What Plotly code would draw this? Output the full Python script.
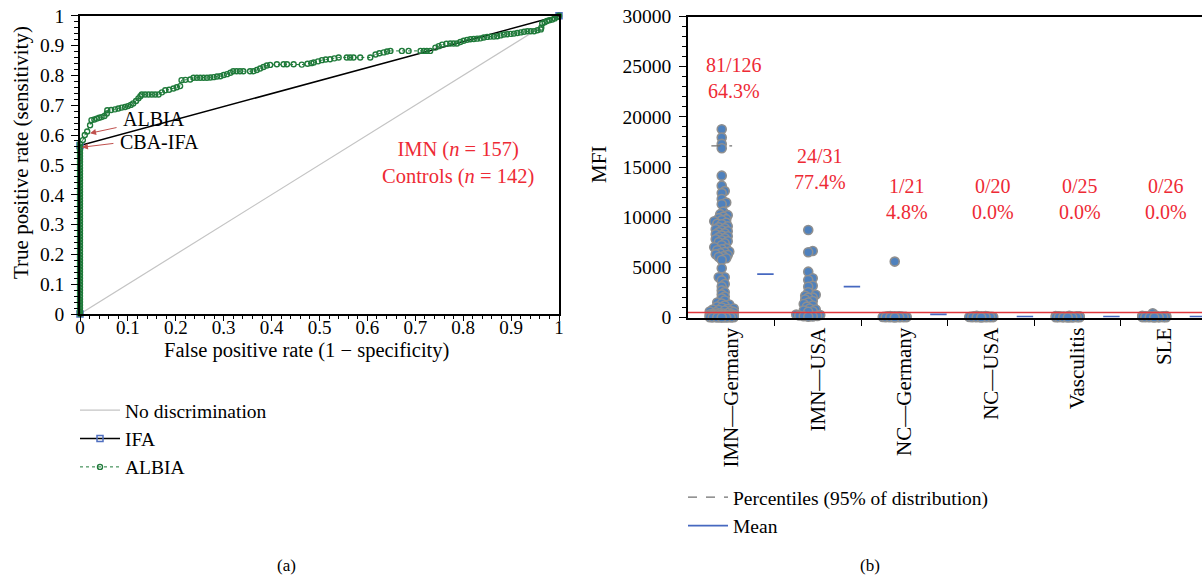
import math
import plotly.graph_objects as go

# ---------------- Panel (a): ROC data ----------------
diag_x = [0, 1]
diag_y = [0, 1]

ifa_fpr = [0, 0, 1]
ifa_tpr = [0, 0.565, 1]

albia_tpr_at_zero = [0.00, 0.01, 0.02, 0.03, 0.04, 0.05, 0.06, 0.07, 0.08, 0.09, 0.10,
                     0.11, 0.12, 0.13, 0.14, 0.15, 0.16, 0.17, 0.18, 0.19, 0.20, 0.21,
                     0.22, 0.23, 0.24, 0.25, 0.26, 0.27, 0.28, 0.29, 0.30, 0.31, 0.32,
                     0.33, 0.34, 0.35, 0.36, 0.37, 0.38, 0.39, 0.40, 0.41, 0.42, 0.43,
                     0.44, 0.45, 0.46, 0.47, 0.48, 0.49, 0.50, 0.51, 0.52, 0.53, 0.54,
                     0.55, 0.56, 0.57]

albia_fpr_curve = [0.006, 0.010, 0.015, 0.021, 0.024, 0.030, 0.035, 0.040, 0.045, 0.051,
                   0.056, 0.057, 0.065, 0.073, 0.080, 0.087, 0.094, 0.100, 0.106, 0.111,
                   0.117, 0.122, 0.126, 0.129, 0.136, 0.143, 0.150, 0.157, 0.164, 0.171,
                   0.178, 0.186, 0.195, 0.202, 0.209, 0.212, 0.220, 0.230, 0.237, 0.244,
                   0.251, 0.258, 0.265, 0.272, 0.279, 0.286, 0.293, 0.300, 0.307, 0.314,
                   0.320, 0.327, 0.334, 0.341, 0.355, 0.362, 0.369, 0.376, 0.383, 0.390,
                   0.397, 0.411, 0.425, 0.432, 0.446, 0.463, 0.475, 0.483, 0.488, 0.497,
                   0.505, 0.513, 0.522, 0.531, 0.540, 0.557, 0.564, 0.571, 0.585, 0.606,
                   0.617, 0.625, 0.634, 0.641, 0.648, 0.672, 0.686, 0.711, 0.718, 0.724,
                   0.731, 0.742, 0.749, 0.756, 0.765, 0.773, 0.780, 0.787, 0.794, 0.801,
                   0.808, 0.815, 0.822, 0.829, 0.836, 0.843, 0.850, 0.857, 0.864, 0.871,
                   0.878, 0.885, 0.892, 0.899, 0.906, 0.913, 0.920, 0.927, 0.934, 0.941,
                   0.948, 0.955, 0.962, 0.963, 0.965, 0.970, 0.975, 0.980, 0.986, 0.991,
                   0.996, 1.000]
albia_tpr_curve = [0.583, 0.600, 0.612, 0.633, 0.650, 0.652, 0.655, 0.658, 0.660, 0.664,
                   0.672, 0.683, 0.684, 0.686, 0.689, 0.692, 0.694, 0.697, 0.701, 0.706,
                   0.714, 0.723, 0.730, 0.736, 0.736, 0.736, 0.736, 0.736, 0.736, 0.743,
                   0.750, 0.752, 0.756, 0.760, 0.764, 0.784, 0.785, 0.786, 0.792, 0.792,
                   0.792, 0.792, 0.792, 0.793, 0.794, 0.796, 0.797, 0.801, 0.804, 0.809,
                   0.814, 0.814, 0.814, 0.814, 0.814, 0.814, 0.818, 0.823, 0.828, 0.833,
                   0.835, 0.837, 0.837, 0.837, 0.837, 0.836, 0.839, 0.841, 0.843, 0.847,
                   0.851, 0.853, 0.854, 0.857, 0.860, 0.860, 0.860, 0.860, 0.860, 0.860,
                   0.870, 0.874, 0.877, 0.880, 0.882, 0.882, 0.882, 0.882, 0.882, 0.882,
                   0.882, 0.893, 0.898, 0.903, 0.906, 0.907, 0.907, 0.907, 0.912, 0.916,
                   0.919, 0.921, 0.922, 0.923, 0.924, 0.927, 0.929, 0.930, 0.930, 0.931,
                   0.934, 0.937, 0.938, 0.939, 0.940, 0.942, 0.944, 0.946, 0.948, 0.948,
                   0.948, 0.951, 0.954, 0.960, 0.974, 0.978, 0.982, 0.985, 0.987, 0.991,
                   0.996, 1.000]

# ---------------- Panel (b): MFI data ----------------
groups = ["IMN—Germany", "IMN—USA", "NC—Germany", "NC—USA", "Vasculitis", "SLE"]
ratio_text = ["81/126", "24/31", "1/21", "0/20", "0/25", "0/26"]
pct_text = ["64.3%", "77.4%", "4.8%", "0.0%", "0.0%", "0.0%"]
label_y = [23900, 14850, 11800, 11800, 11800, 11800]

imn_germany = [18760, 17930, 17300, 16870, 14140, 13140, 12600, 12400, 11810, 11450,
               11280, 10550, 10300, 10200, 10050, 9900, 9800, 9700, 9600, 9450,
               9350, 9300, 9100, 9000, 8900, 8800, 8700, 8600, 8500, 8400,
               8300, 8190, 8100, 8000, 7900, 7800, 7700, 7600, 7500, 7400,
               7200, 7000, 6900, 6800, 6700, 6580, 6530, 6400, 6300, 6230,
               6100, 6030, 5900, 5730, 4900, 4010, 4010, 3700, 3340, 3100,
               2700, 2510, 2300, 2100, 1910, 1700, 1500, 1400, 1300, 1200,
               1100, 1000, 900, 850, 800, 750, 700, 650, 600, 560, 520,
               450, 430, 400, 380, 350, 330, 300, 280, 260, 250, 240, 220, 200, 190,
               180, 170, 160, 150, 140, 130, 120, 110, 100, 95, 90, 85, 80, 75, 70,
               65, 60, 55, 50, 45, 40, 35, 30, 25, 20, 15, 10, 5, 3, 0]
imn_usa = [8720, 6630, 6500, 4570, 3910, 3740, 3170, 3070, 2510, 2270, 2170, 2000,
           1980, 1800, 1650, 1500, 1350, 1200, 1080, 900, 800, 700, 620, 580,
           300, 250, 200, 150, 120, 100, 80]
nc_germany = [5570, 150, 130, 120, 110, 100, 90, 85, 80, 70, 65, 60, 55, 50, 45, 40,
              35, 30, 25, 20, 10]
nc_usa = [160, 140, 120, 110, 100, 90, 85, 80, 70, 65, 60, 55, 50, 45, 40, 35, 30,
          25, 20, 10]
vasculitis = [170, 150, 130, 120, 110, 100, 95, 90, 85, 80, 75, 70, 65, 60, 55, 50,
              45, 40, 35, 30, 25, 20, 15, 10, 5]
sle = [420, 200, 170, 150, 130, 120, 110, 100, 95, 90, 85, 80, 75, 70, 65, 60, 55,
       50, 45, 40, 35, 30, 25, 20, 15, 10]
group_values = [imn_germany, imn_usa, nc_germany, nc_usa, vasculitis, sle]

group_means = [4330, 3070, 320, 80, 80, 80]
group_p95 = [17100, None, None, None, None, None]
cutoff = 500

# ---------------- geometry helpers ----------------
W, H = 1202, 580
L_X0, L_X1, L_YT, L_YB = 80, 559, 15.7, 314
R_X0, R_YT, R_YB = 688, 16.5, 317.5
CAT_PX = 86.5
R_XMAX = (W - R_X0) / CAT_PX
Y_MAX = 30000
PX_PER_MFI = (R_YB - R_YT) / Y_MAX


def swarm_offsets(values, dmin=3.5, step=1.5, maxoff=12.0):
    """Simple beeswarm layout in pixel space, returns offsets in category units."""
    cands = [0.0]
    k = 1
    while k * step <= maxoff:
        cands += [k * step, -k * step]
        k += 1
    order = sorted(range(len(values)), key=lambda i: values[i])
    placed = []
    offs = [0.0] * len(values)
    for i in order:
        y = values[i] * PX_PER_MFI
        chosen = None
        best_c, best_d = 0.0, -1.0
        for c in cands:
            d = min((math.hypot(c - px, y - py) for px, py in placed), default=1e9)
            if d >= dmin:
                chosen = c
                break
            if d > best_d:
                best_d, best_c = d, c
        if chosen is None:
            chosen = best_c
        placed.append((chosen, y))
        offs[i] = chosen / CAT_PX
    return offs


def px_x(p):
    return p / W


def px_y(p):
    return 1 - p / H


SERIF = "Liberation Serif"
RED = "#ee2a35"
GREEN = "#1f7a3a"

fig = go.Figure()

# ---- panel (a) traces ----
fig.add_trace(go.Scatter(x=diag_x, y=diag_y, mode="lines", name="No discrimination",
                         line=dict(color="#c4c4c4", width=1.2),
                         xaxis="x", yaxis="y", legend="legend"))
fig.add_trace(go.Scatter(x=ifa_fpr, y=ifa_tpr, mode="lines+markers", name="IFA",
                         line=dict(color="black", width=1.6),
                         marker=dict(symbol="square-open", size=6, color="#4f6fc0",
                                     line=dict(width=1.5)),
                         xaxis="x", yaxis="y", legend="legend", cliponaxis=False))
albia_x = [0.0] * len(albia_tpr_at_zero) + albia_fpr_curve
albia_y = albia_tpr_at_zero + albia_tpr_curve
fig.add_trace(go.Scatter(x=albia_x, y=albia_y, mode="lines+markers", name="ALBIA",
                         line=dict(color=GREEN, width=1, dash="dot"),
                         marker=dict(symbol="circle-open", size=5, color=GREEN,
                                     line=dict(width=1.4)),
                         xaxis="x", yaxis="y", legend="legend", cliponaxis=False))

# ---- panel (b) traces ----
for k, vals in enumerate(group_values):
    offs = swarm_offsets(vals)
    fig.add_trace(go.Scatter(
        x=[k + 0.39 + o for o in offs], y=vals, mode="markers", showlegend=False,
        marker=dict(size=9, color="#4f81bd", line=dict(color="#8f8f8f", width=1.6)),
        xaxis="x2", yaxis="y2", cliponaxis=False, hoverinfo="y"))

# cutoff line
fig.add_trace(go.Scatter(x=[0, R_XMAX], y=[cutoff, cutoff], mode="lines", showlegend=False,
                         line=dict(color="#e0393e", width=1.3), xaxis="x2", yaxis="y2"))

# percentiles
px_, py_ = [], []
for k, p in enumerate(group_p95):
    if p is not None:
        px_ += [k + 0.27, k + 0.51, None]
        py_ += [p, p, None]
fig.add_trace(go.Scatter(x=px_, y=py_, mode="lines", name="Percentiles (95% of distribution)",
                         line=dict(color="#707070", width=1.3, dash="dash"),
                         xaxis="x2", yaxis="y2", legend="legend2"))
# means
mx, my = [], []
for k, m in enumerate(group_means):
    mx += [k + 0.8, k + 0.99, None]
    my += [m, m, None]
fig.add_trace(go.Scatter(x=mx, y=my, mode="lines", name="Mean",
                         line=dict(color="#4668c0", width=1.8),
                         xaxis="x2", yaxis="y2", legend="legend2", cliponaxis=False))

# ---- annotations ----
ann = []
for k in range(len(groups)):
    ann.append(dict(x=k + 0.53, y=label_y[k], xref="x2", yref="y2",
                    xanchor="center", yanchor="middle",
                    text=f"{ratio_text[k]}<br>{pct_text[k]}", showarrow=False,
                    font=dict(family=SERIF, size=20, color=RED), align="center"))


def paper_text(x, y, text, size, color="black", xanchor="center", angle=0):
    return dict(x=px_x(x), y=px_y(y), xref="paper", yref="paper", text=text,
                showarrow=False, xanchor=xanchor, yanchor="middle", textangle=angle,
                font=dict(family=SERIF, size=size, color=color), align="center")


ann.append(paper_text(458, 163, "IMN (<i>n</i> = 157)<br>Controls (<i>n</i> = 142)", 20.5, RED))
# arrows
ann.append(dict(x=0.021, y=0.606, xref="x", yref="y", ax=28, ay=-6, text="",
                showarrow=True, arrowhead=2, arrowsize=1.2, arrowwidth=1, arrowcolor="#c0504d"))
ann.append(dict(x=0.004, y=0.559, xref="x", yref="y", ax=33, ay=-4, text="",
                showarrow=True, arrowhead=2, arrowsize=1.2, arrowwidth=1, arrowcolor="#c0504d"))
ann.append(paper_text(121, 119, "ALBIA", 20, xanchor="left"))
ann.append(paper_text(118, 142, "CBA-IFA", 20, xanchor="left"))
ann.append(paper_text(286, 565, "(a)", 17))
ann.append(paper_text(870, 565, "(b)", 17))
# axis titles
ann.append(paper_text(306, 350, "False positive rate (1 − specificity)", 20.5))
ann.append(paper_text(21, 153, "True positive rate (sensitivity)", 21, angle=-90))
ann.append(paper_text(599, 165, "MFI", 21, angle=-90))

tickfont = dict(family=SERIF, size=19.5, color="black")
legfont = dict(family=SERIF, size=19.5, color="black")

fig.update_layout(
    width=W, height=H, margin=dict(l=0, r=0, t=0, b=0, autoexpand=False),
    paper_bgcolor="white", plot_bgcolor="white",
    font=dict(family=SERIF, color="black"),
    annotations=ann,
    xaxis=dict(domain=[L_X0 / W, L_X1 / W], range=[0, 1], dtick=0.1, tick0=0,
               automargin=False,
               showgrid=False, zeroline=False, showline=True, linecolor="black", linewidth=1.5,
               mirror=True, ticks="outside", ticklen=5, tickcolor="black", tickwidth=1.2,
               ticklabelstandoff=-10,
               minor=dict(dtick=0.02, ticks="outside", ticklen=3, tickcolor="black"),
               tickfont=dict(family=SERIF, size=19, color="black"), anchor="y"),
    yaxis=dict(domain=[1 - L_YB / H, 1 - L_YT / H], range=[0, 1], dtick=0.1, tick0=0,
               automargin=False,
               showgrid=False, zeroline=False, showline=True, linecolor="black", linewidth=1.5,
               mirror=True, ticks="outside", ticklen=7, tickcolor="black", tickwidth=1.2,
               ticklabelstandoff=3,
               minor=dict(dtick=0.02, ticks="outside", ticklen=4, tickcolor="black"),
               tickfont=tickfont, anchor="x"),
    xaxis2=dict(domain=[R_X0 / W, 1.0], range=[0, R_XMAX], automargin=False,
                tickmode="array", tickvals=[k + 0.5 for k in range(len(groups))], ticktext=groups,
                tickangle=-90, ticks="", showgrid=False, zeroline=False,
                showline=True, linecolor="black", linewidth=1.5, mirror=True,
                minor=dict(tickmode="array", tickvals=list(range(1, len(groups) + 1)),
                           ticks="outside", ticklen=7, tickcolor="black", tickwidth=1.2),
                tickfont=dict(family=SERIF, size=21, color="black"), anchor="y2"),
    yaxis2=dict(domain=[1 - R_YB / H, 1 - R_YT / H], range=[0, Y_MAX], dtick=5000, tick0=0,
                automargin=False, tickformat="d",
                showgrid=False, zeroline=False, showline=True, linecolor="black", linewidth=1.5,
                ticks="outside", ticklen=7, tickcolor="black", tickwidth=1.2,
                ticklabelstandoff=4,
                minor=dict(dtick=1000, ticks="outside", ticklen=4, tickcolor="black"),
                tickfont=tickfont, anchor="x2"),
    legend=dict(x=px_x(75), y=px_y(391), xanchor="left", yanchor="top",
                font=legfont, bgcolor="rgba(0,0,0,0)",
                tracegroupgap=0, itemwidth=40),
    legend2=dict(x=px_x(683), y=px_y(478), xanchor="left", yanchor="top",
                 font=legfont, bgcolor="rgba(0,0,0,0)",
                 tracegroupgap=0, itemwidth=40),
)

fig.write_html("out.html", config={"displayModeBar": False},
               post_script="document.body.style.margin='0';document.body.style.padding='0';")
